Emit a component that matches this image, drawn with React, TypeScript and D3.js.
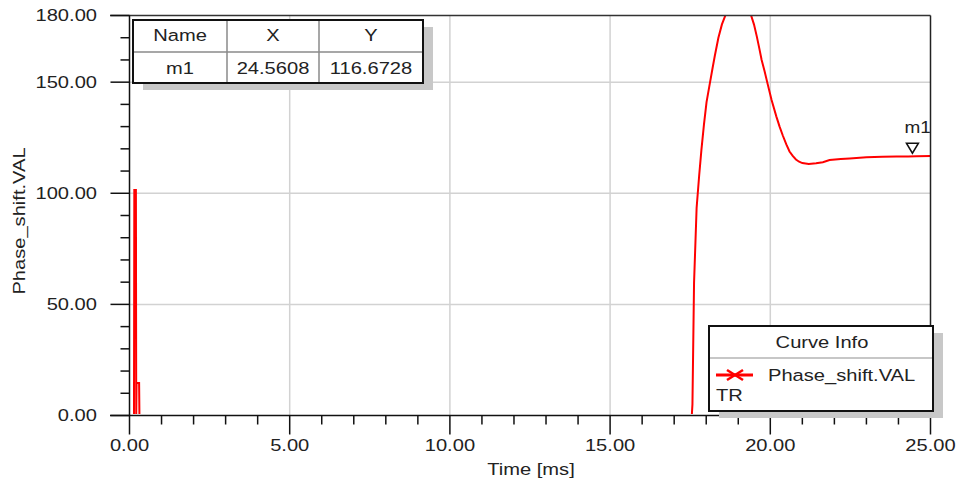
import React from "react";
import * as d3 from "d3";

const timeMs = [0, 0.14, 0.15, 0.2, 0.21, 0.22, 0.3, 0.31, 17.55, 17.57, 17.62, 17.7, 17.78, 17.85, 17.93, 18.01, 18.12, 18.2, 18.27, 18.38, 18.49, 18.61, 18.8, 19.0, 19.2, 19.38, 19.49, 19.58, 19.66, 19.73, 19.82, 19.92, 20.04, 20.19, 20.29, 20.39, 20.5, 20.6, 20.7, 20.8, 20.9, 21.0, 21.2, 21.43, 21.64, 21.85, 22.2, 22.48, 23.0, 23.5, 23.94, 24.3, 24.56, 25];
const phaseVal = [0, 0, 101.5, 101.5, 0, 14.6, 14.6, 0, 0, 5, 59.6, 93.4, 108, 119.5, 131, 141, 150, 156.5, 162, 170, 176, 180.5, 184, 185.5, 184, 181, 176, 170.5, 165, 160, 155, 149, 142, 134.5, 130, 126, 122, 118.8, 116.8, 115.2, 114.2, 113.6, 113.2, 113.5, 114, 115, 115.4, 115.7, 116.2, 116.4, 116.5, 116.6, 116.67, 116.8];

const xTicks = [0, 5, 10, 15, 20, 25];
const yTicks = [0, 50, 100, 150, 180];
const xMinor = d3.range(0, 25.01, 1);
const yMinor = d3.range(0, 180.01, 10);

const markerName = "m1";
const markerX = 24.5608;
const markerY = 116.6728;
const seriesName = "Phase_shift.VAL";
const legendTitle = "Curve Info";
const legendSub = "TR";
const xTitle = "Time [ms]";
const yTitle = "Phase_shift.VAL";

const FONT = "'Liberation Sans', Arial, sans-serif";
const FS = 16.5;
const SX = 1.22;
const TXT = "#222";

function T({ x, y, anchor = "middle", children, fs = FS, sx = SX }: any) {
  return (
    <g transform={`translate(${x},${y}) scale(${sx},1)`}>
      <text textAnchor={anchor} dy="0.35em" fontFamily={FONT} fontSize={fs} fill={TXT}>
        {children}
      </text>
    </g>
  );
}

export default function App() {
  const W = 958, H = 482;
  const x = d3.scaleLinear().domain([0, 25]).range([129.5, 930.5]);
  const y = d3.scaleLinear().domain([0, 180]).range([415.5, 15.5]);
  const line = d3
    .line<number>()
    .x((_, i) => x(timeMs[i]))
    .y((_, i) => y(phaseVal[i]))
    .curve(d3.curveLinear);
  const pathD = line(phaseVal) || "";
  const mx = x(markerX) - 4;
  const my = y(markerY);

  const tL = 133, tT = 20, tR = 423, tB = 83, tMid = 52, c1 = 227, c2 = 319;
  const lL = 709, lT = 326, lR = 933, lB = 411, lMid = 358;

  return (
    <svg width={W} height={H} style={{ position: "absolute", left: 0, top: 0, background: "#fff" }}>
      <defs>
        <clipPath id="plotclip">
          <rect x={129.5} y={15.5} width={801} height={398.6} />
        </clipPath>
      </defs>
      <rect x={0} y={0} width={W} height={H} fill="#fff" />
      {xTicks.filter((t) => t > 0 && t < 25).map((t) => (
        <line key={"gx" + t} x1={x(t)} x2={x(t)} y1={y(180)} y2={y(0)} stroke="#d2d2d2" strokeWidth={1.5} />
      ))}
      {yTicks.filter((t) => t > 0 && t < 180).map((t) => (
        <line key={"gy" + t} x1={x(0)} x2={x(25)} y1={y(t)} y2={y(t)} stroke="#d2d2d2" strokeWidth={1.5} />
      ))}
      <g clipPath="url(#plotclip)">
        <path d={pathD} fill="none" stroke="#ff0000" strokeWidth={2} strokeLinejoin="miter" />
      </g>
      <line x1={110} x2={930.5} y1={y(180)} y2={y(180)} stroke="#333" strokeWidth={1.5} />
      <line x1={x(25)} x2={x(25)} y1={y(180)} y2={y(0)} stroke="#222" strokeWidth={1.5} />
      <line x1={110} x2={x(25)} y1={y(0)} y2={y(0)} stroke="#111" strokeWidth={1.5} />
      <line x1={x(0)} x2={x(0)} y1={y(180)} y2={y(0)} stroke="#111" strokeWidth={1.5} />
      {xMinor.map((t) => (
        <line key={"xm" + t} x1={x(t)} x2={x(t)} y1={y(0)} y2={y(0) + (t % 5 === 0 ? 19 : 9)} stroke="#111" strokeWidth={1.5} />
      ))}
      {yMinor.map((t) => (
        <line key={"ym" + t} x1={x(0) - (t % 50 === 0 || t === 180 ? 19 : 9)} x2={x(0)} y1={y(t)} y2={y(t)} stroke="#111" strokeWidth={1.5} />
      ))}
      {xTicks.map((t) => (
        <T key={"xl" + t} x={x(t)} y={445}>{t.toFixed(2)}</T>
      ))}
      {yTicks.map((t) => (
        <T key={"yl" + t} x={97} y={y(t)} anchor="end">{t.toFixed(2)}</T>
      ))}
      <T x={531} y={469}>{xTitle}</T>
      <g transform="translate(19,221) rotate(-90)">
        <T x={0} y={0}>{yTitle}</T>
      </g>
      <path d={`M${mx - 6},${my - 13} L${mx + 6},${my - 13} L${mx},${my - 3} Z`} fill="#fff" stroke="#111" strokeWidth={1.5} />
      <T x={mx - 8} y={my - 29} anchor="start" sx={1.15}>{markerName}</T>
      <rect x={tL + 10} y={tT + 7} width={tR - tL} height={tB - tT} fill="#c8c8c8" />
      <rect x={tL} y={tT} width={tR - tL} height={tB - tT} fill="#fff" />
      <line x1={tL} x2={tR} y1={tMid} y2={tMid} stroke="#8a8a8a" strokeWidth={1.5} />
      <line x1={c1} x2={c1} y1={tT} y2={tB} stroke="#8a8a8a" strokeWidth={1.5} />
      <line x1={c2} x2={c2} y1={tT} y2={tB} stroke="#8a8a8a" strokeWidth={1.5} />
      <rect x={tL} y={tT} width={tR - tL} height={tB - tT} fill="none" stroke="#111" strokeWidth={2} />
      <T x={(tL + c1) / 2} y={35}>Name</T>
      <T x={(c1 + c2) / 2} y={35}>X</T>
      <T x={(c2 + tR) / 2} y={35}>Y</T>
      <T x={(tL + c1) / 2} y={68}>{markerName}</T>
      <T x={(c1 + c2) / 2} y={68}>{markerX.toFixed(4)}</T>
      <T x={(c2 + tR) / 2} y={68}>{markerY.toFixed(4)}</T>
      <rect x={lL + 10} y={lT + 7} width={lR - lL} height={lB - lT} fill="#c8c8c8" />
      <rect x={lL} y={lT} width={lR - lL} height={lB - lT} fill="#fff" />
      <line x1={lL} x2={lR} y1={lMid} y2={lMid} stroke="#b5b5b5" strokeWidth={1.5} />
      <rect x={lL} y={lT} width={lR - lL} height={lB - lT} fill="none" stroke="#111" strokeWidth={2} />
      <T x={822} y={342}>{legendTitle}</T>
      <line x1={716} x2={753} y1={375} y2={375} stroke="#ff0000" strokeWidth={3} />
      <line x1={727} x2={743} y1={370} y2={380} stroke="#ff0000" strokeWidth={2.5} />
      <line x1={727} x2={743} y1={380} y2={370} stroke="#ff0000" strokeWidth={2.5} />
      <T x={768} y={375} anchor="start">{seriesName}</T>
      <T x={716} y={395} anchor="start">{legendSub}</T>
    </svg>
  );
}
